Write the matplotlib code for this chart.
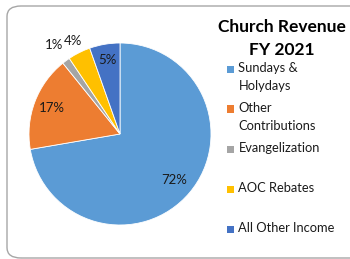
import matplotlib
matplotlib.use("Agg")
import matplotlib.pyplot as plt
from matplotlib.patches import FancyBboxPatch, Rectangle
import numpy as np

categories = ["Sundays &\nHolydays", "Other\nContributions", "Evangelization", "AOC Rebates", "All Other Income"]
values = [72.3, 16.9, 1.4, 4.0, 5.4]
colors = ["#5B9BD5", "#ED7D31", "#A5A5A5", "#FFC000", "#4472C4"]
title = "Church Revenue\nFY 2021"

label_dist = [0.78, 0.80, 1.22, 1.14, 0.82]

plt.rcParams['font.family'] = ['Lato', 'DejaVu Sans']

W, H = 350, 259
fig = plt.figure(figsize=(W / 100, H / 100), dpi=100)

# border
border = FancyBboxPatch((7 / W, 1 - 258 / H), (W + 20 - 7) / W, (258 - 6) / H,
                        boxstyle="round,pad=0,rounding_size=0.04",
                        transform=fig.transFigure, facecolor="none",
                        edgecolor="#A6A6A6", linewidth=1.0, clip_on=False, zorder=-1)
fig.patches.append(border)

cx, cy, r = 120, 134, 91
ax = fig.add_axes([(cx - r) / W, (H - cy - r) / H, 2 * r / W, 2 * r / H])
wedges, _ = ax.pie(values, colors=colors, startangle=90, counterclock=False,
                   radius=1, wedgeprops=dict(edgecolor="white", linewidth=0.6))
ax.set_xlim(-1, 1)
ax.set_ylim(-1, 1)
ax.set_aspect("equal")
ax.axis("off")

total = sum(values)
for w, v, d in zip(wedges, values, label_dist):
    ang = np.deg2rad((w.theta1 + w.theta2) / 2)
    ax.text(d * np.cos(ang), d * np.sin(ang), f"{round(v / total * 100)}%",
            ha="center", va="center", fontsize=9.5, color="#1a1a1a")

fig.text(282 / W, 1 - 38.5 / H, title, ha="center", va="center",
         fontsize=12.5, fontweight="bold", linespacing=1.55, color="#000000")

# legend
y0, dy = 69, 40
for i, (lab, c) in enumerate(zip(categories, colors)):
    y = y0 + i * dy
    fig.patches.append(Rectangle((227 / W, 1 - (y + 3.5) / H), 7 / W, 7 / H,
                                 transform=fig.transFigure, facecolor=c,
                                 edgecolor="none"))
    fig.text(238.5 / W, 1 - (y - 7.5) / H, lab, ha="left", va="top",
             fontsize=9.3, linespacing=1.62, color="#1a1a1a")

fig.savefig("out.png", dpi=100)
